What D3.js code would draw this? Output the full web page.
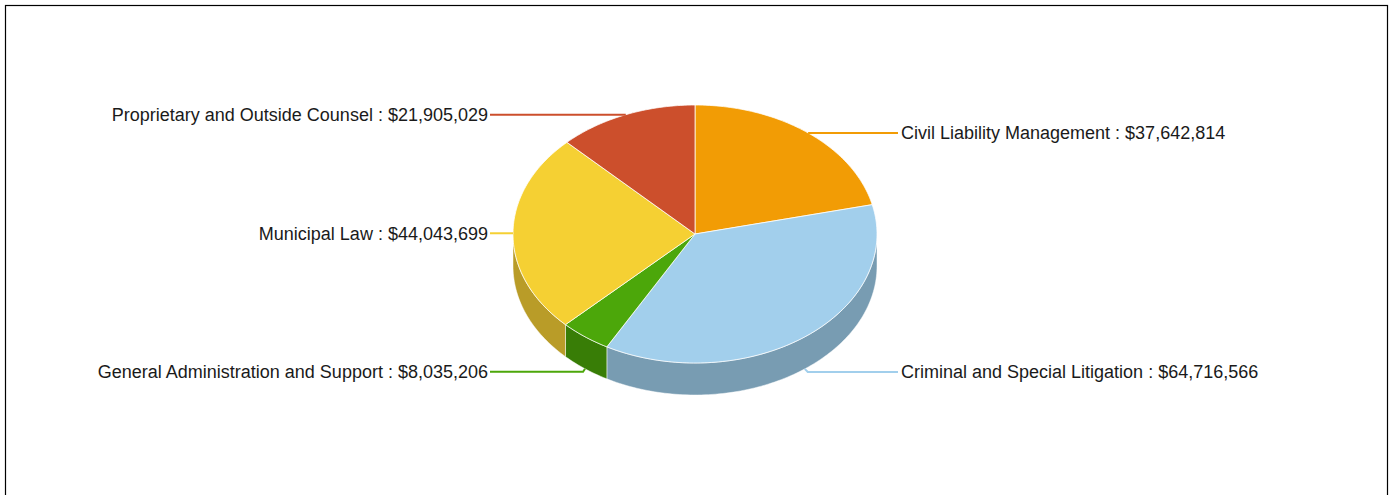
<!DOCTYPE html>
<html>
<head>
<meta charset="utf-8">
<script src="https://cdn.jsdelivr.net/npm/d3@7"></script>
<style>
  html, body { margin: 0; padding: 0; background: #fff; }
  svg { display: block; }
  text { font-family: "Liberation Sans", Arial, sans-serif; font-size: 18px; fill: #1a1a1a; }
</style>
</head>
<body>
<svg id="chart" width="1392" height="495"></svg>
<script>
// Budget by program
const categories = [
  "Civil Liability Management",
  "Criminal and Special Litigation",
  "General Administration and Support",
  "Municipal Law",
  "Proprietary and Outside Counsel"
];
const values = [37642814, 64716566, 8035206, 44043699, 21905029];
const topColors  = ["#f29c05", "#a2cfec", "#4ca70a", "#f5d033", "#cc4f2c"];
const sideColors = ["#b37304", "#789cb2", "#387d06", "#b99c28", "#973a20"];

const svg = d3.select("#chart");
const W = 1392, H = 495;

// frame
svg.append("rect")
  .attr("x", 5.5).attr("y", 5.5)
  .attr("width", 1382).attr("height", H + 10)
  .attr("fill", "none").attr("stroke", "#000").attr("stroke-width", 1.2);

const cx = 695, cy = 234, rx = 182, ry = 129, depth = 32;

const data = categories.map((c, i) => ({ name: c, value: values[i], i }));
const arcs = d3.pie().sort(null).value(d => d.value).startAngle(0).endAngle(2 * Math.PI)(data);

// point on the ellipse at angle a (clockwise from 12 o'clock)
const pt = (a, dy = 0) => [cx + rx * Math.sin(a), cy - ry * Math.cos(a) + dy];

function ellipseArc(p, a0, a1, dy) {
  const n = Math.max(2, Math.ceil(Math.abs(a1 - a0) / 0.02));
  for (let k = 0; k <= n; k++) {
    const a = a0 + (a1 - a0) * k / n;
    const [x, y] = pt(a, dy);
    p.lineTo(x, y);
  }
}

const g = svg.append("g");

// side walls (only the front half, angles PI/2..3PI/2)
arcs.forEach(d => {
  const a0 = Math.max(d.startAngle, Math.PI / 2);
  const a1 = Math.min(d.endAngle, 3 * Math.PI / 2);
  if (a1 <= a0) return;
  const p = d3.path();
  const s = pt(a0);
  p.moveTo(s[0], s[1]);
  ellipseArc(p, a0, a1, 0);
  ellipseArc(p, a1, a0, depth);
  p.closePath();
  g.append("path")
    .attr("d", p.toString())
    .attr("fill", sideColors[d.data.i])
    .attr("stroke", "rgba(255,255,255,0.6)")
    .attr("stroke-width", 0.8)
    .attr("stroke-linejoin", "round");
});

// top faces
arcs.forEach(d => {
  const p = d3.path();
  p.moveTo(cx, cy);
  const s = pt(d.startAngle);
  p.lineTo(s[0], s[1]);
  ellipseArc(p, d.startAngle, d.endAngle, 0);
  p.closePath();
  g.append("path")
    .attr("d", p.toString())
    .attr("fill", topColors[d.data.i])
    .attr("stroke", "rgba(255,255,255,0.75)")
    .attr("stroke-width", 1)
    .attr("stroke-linejoin", "round");
});

// labels with leader lines
const fmt = d3.format("$,");
const rightX = 898, leftX = 490;
arcs.forEach(d => {
  const mid = (d.startAngle + d.endAngle) / 2;
  const front = Math.cos(mid) < -0.5;
  const [x0, y0] = pt(mid, front ? depth : 0);
  const right = Math.sin(mid) >= 0;
  const ly = front ? y0 + 3 : y0;
  const lx = right ? rightX : leftX;
  const pts = front ? [[x0, y0], [x0 + (right ? 3 : -2), ly], [lx, ly]] : [[x0, y0], [lx, ly]];
  svg.append("path")
    .attr("d", d3.line()(pts))
    .attr("fill", "none")
    .attr("stroke", topColors[d.data.i])
    .attr("stroke-width", 2);
  svg.append("text")
    .attr("x", right ? lx + 3 : lx - 2)
    .attr("y", ly)
    .attr("dy", "0.36em")
    .attr("text-anchor", right ? "start" : "end")
    .text(`${d.data.name} : ${fmt(d.data.value)}`);
});
</script>
</body>
</html>
